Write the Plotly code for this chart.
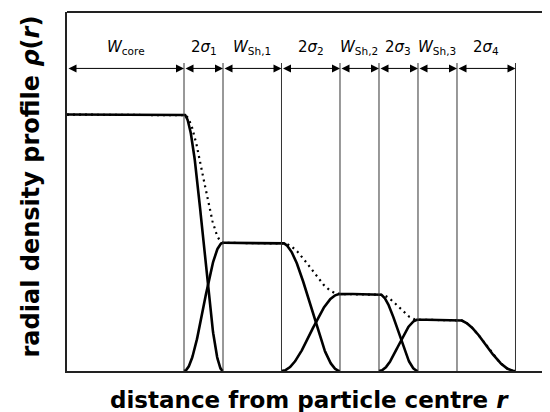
import numpy as np
import plotly.graph_objects as go

# ---- data (read from the schematic) ----
boundaries = [0, 6, 8, 11, 14, 16, 18, 20, 23]          # region edges along r
region_labels = ["<i>W</i><sub>core</sub>", "2<i>σ</i><sub>1</sub>",
                 "<i>W</i><sub>Sh,1</sub>", "2<i>σ</i><sub>2</sub>",
                 "<i>W</i><sub>Sh,2</sub>", "2<i>σ</i><sub>3</sub>",
                 "<i>W</i><sub>Sh,3</sub>", "2<i>σ</i><sub>4</sub>"]
layer_names = ["core", "shell 1", "shell 2", "shell 3"]
layer_levels = [1.0, 0.5, 0.3, 0.2]

X_MAX = 24.77
Y_MAX = 1.4
ARROW_Y = 1.18
VLINE_TOP = 1.201
LABEL_Y = 1.262


def step_down(x, a, b):
    t = np.clip((x - a) / (b - a), 0, 1)
    return 0.5 * (1 + np.cos(np.pi * t))


def layer_profile(x, i):
    lvl = layer_levels[i]
    fall_a, fall_b = boundaries[2 * i + 1], boundaries[2 * i + 2]
    y = lvl * step_down(x, fall_a, fall_b)
    if i > 0:
        rise_a, rise_b = boundaries[2 * i - 1], boundaries[2 * i]
        y = y * (1 - step_down(x, rise_a, rise_b))
    return y


fig = go.Figure()

# total profile (dotted)
xt = np.linspace(0, boundaries[-1], 1500)
total = sum(layer_profile(xt, i) for i in range(len(layer_levels)))
fig.add_trace(go.Scatter(x=xt, y=total, mode="lines", name="total",
                         line=dict(color="black", width=2.2, dash="2px,4px"),
                         showlegend=False, hoverinfo="skip"))

# individual layers (solid)
for i, nm in enumerate(layer_names):
    start = 0 if i == 0 else boundaries[2 * i - 1]
    end = boundaries[2 * i + 2]
    xs = np.linspace(start, end, 400)
    fig.add_trace(go.Scatter(x=xs, y=layer_profile(xs, i), mode="lines", name=nm,
                             line=dict(color="black", width=2.6),
                             showlegend=False, hoverinfo="skip"))

shapes = []
for b in boundaries[1:]:
    shapes.append(dict(type="line", xref="x", yref="y", x0=b, x1=b, y0=0, y1=VLINE_TOP,
                       line=dict(color="#333333", width=1)))
# top frame line
shapes.append(dict(type="line", xref="paper", yref="paper", x0=0, x1=1, y0=1, y1=1,
                   line=dict(color="#222222", width=2)))

annotations = []
for k in range(len(boundaries) - 1):
    a, b = boundaries[k], boundaries[k + 1]
    annotations.append(dict(x=b, y=ARROW_Y, ax=a, ay=ARROW_Y, xref="x", yref="y",
                            axref="x", ayref="y", text="", showarrow=True,
                            arrowhead=2, startarrowhead=2, arrowside="end+start",
                            arrowsize=1.6, arrowwidth=1, arrowcolor="black",
                            standoff=0, startstandoff=0))
    annotations.append(dict(x=(a + b) / 2, y=LABEL_Y, xref="x", yref="y",
                            text=region_labels[k], showarrow=False,
                            font=dict(family="DejaVu Sans", size=15, color="black"),
                            xanchor="center", yanchor="middle"))

annotations.append(dict(x=0, y=0.5, xref="paper", yref="paper", xshift=-37, yshift=5,
                        text="<b>radial density profile <i>ρ</i>(<i>r</i>)</b>",
                        textangle=-90, showarrow=False,
                        font=dict(family="DejaVu Sans", size=24, color="black"),
                        xanchor="center", yanchor="middle"))
annotations.append(dict(x=0.502, y=0, xref="paper", yref="paper", yshift=-29,
                        text="<b>distance from particle centre <i>r</i></b>",
                        showarrow=False,
                        font=dict(family="DejaVu Sans", size=23, color="black"),
                        xanchor="center", yanchor="middle"))

# the page body adds an 8px offset, so the figure is sized to the remaining area
fig.update_layout(
    width=542, height=404,
    margin=dict(l=59, r=0, t=4, b=41),
    paper_bgcolor="white", plot_bgcolor="white",
    shapes=shapes, annotations=annotations,
    xaxis=dict(range=[0, X_MAX], showgrid=False, zeroline=False, showticklabels=False,
               ticks="", showline=True, linecolor="#222222", linewidth=2),
    yaxis=dict(range=[0, Y_MAX], showgrid=False, zeroline=False, showticklabels=False,
               ticks="", showline=True, linecolor="#222222", linewidth=1.5),
)

fig.write_html("out.html")
